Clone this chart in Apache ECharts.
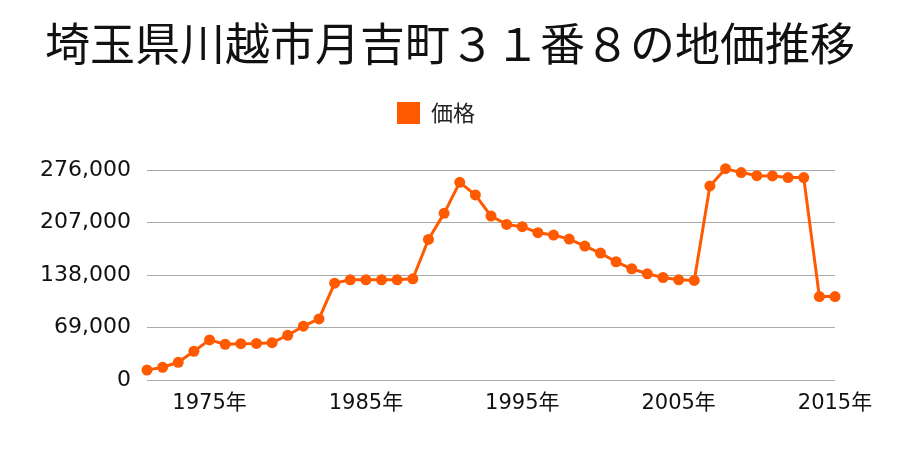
<!DOCTYPE html>
<html><head><meta charset="utf-8">
<script src="https://cdn.jsdelivr.net/npm/echarts@6/dist/echarts.min.js"></script>
<style>html,body{margin:0;padding:0;background:#fff}#c{width:900px;height:450px}</style>
</head><body><div id="c"></div>
<script>
const years = [1971,1972,1973,1974,1975,1976,1977,1978,1979,1980,1981,1982,1983,1984,1985,1986,1987,1988,1989,1990,1991,1992,1993,1994,1995,1996,1997,1998,1999,2000,2001,2002,2003,2004,2005,2006,2007,2008,2009,2010,2011,2012,2013,2014,2015];
const prices = [13000,16700,23300,37800,52700,47000,47800,48000,49100,58800,70700,80300,127300,131700,131700,131700,131700,133000,184700,219000,259800,243200,215500,204500,201500,193600,190500,185200,176000,166800,155400,146200,139600,134700,131700,130800,255000,277800,272600,268600,268200,266000,266000,109700,109700];
const yTicks = [0,69000,138000,207000,276000];
const seriesName = '価格';
const titleText = '埼玉県川越市月吉町３１番８の地価推移';
const font = '"Noto Sans CJK JP", sans-serif';
const numFont = '"DejaVu Sans", "Noto Sans CJK JP", sans-serif';
const chart = echarts.init(document.getElementById('c'));
chart.setOption({
  animation:false,
  title:{text:titleText,left:'center',top:16,textStyle:{fontFamily:font,fontSize:45,fontWeight:'normal',color:'#111'}},
  legend:{data:[seriesName],top:97,left:392,icon:'rect',itemWidth:23,itemHeight:22,itemGap:10,textStyle:{fontFamily:font,fontSize:22,color:'#222',padding:[0,0,0,6]}},
  grid:{left:147,right:65,top:170,bottom:70},
  xAxis:{type:'category',data:years.map(String),boundaryGap:false,
    axisLine:{show:false},axisTick:{show:false},
    axisLabel:{interval:(i,v)=>(Number(v)-1975)%10===0,formatter:v=>v+'年',fontFamily:numFont,fontSize:21,color:'#111',margin:13}},
  yAxis:{type:'value',min:yTicks[0],max:yTicks[yTicks.length-1],interval:69000,
    axisLine:{show:false},axisTick:{show:false},
    axisLabel:{fontFamily:numFont,fontSize:22,color:'#111',margin:16,formatter:v=>v.toLocaleString('en-US')},
    splitLine:{lineStyle:{color:'#aaa',width:1}}},
  series:[{name:seriesName,type:'line',data:prices,symbol:'circle',symbolSize:11,showAllSymbol:true,clip:false,
    itemStyle:{color:'#ff5a00'},lineStyle:{color:'#ff5a00',width:3}}]
});
</script></body></html>
